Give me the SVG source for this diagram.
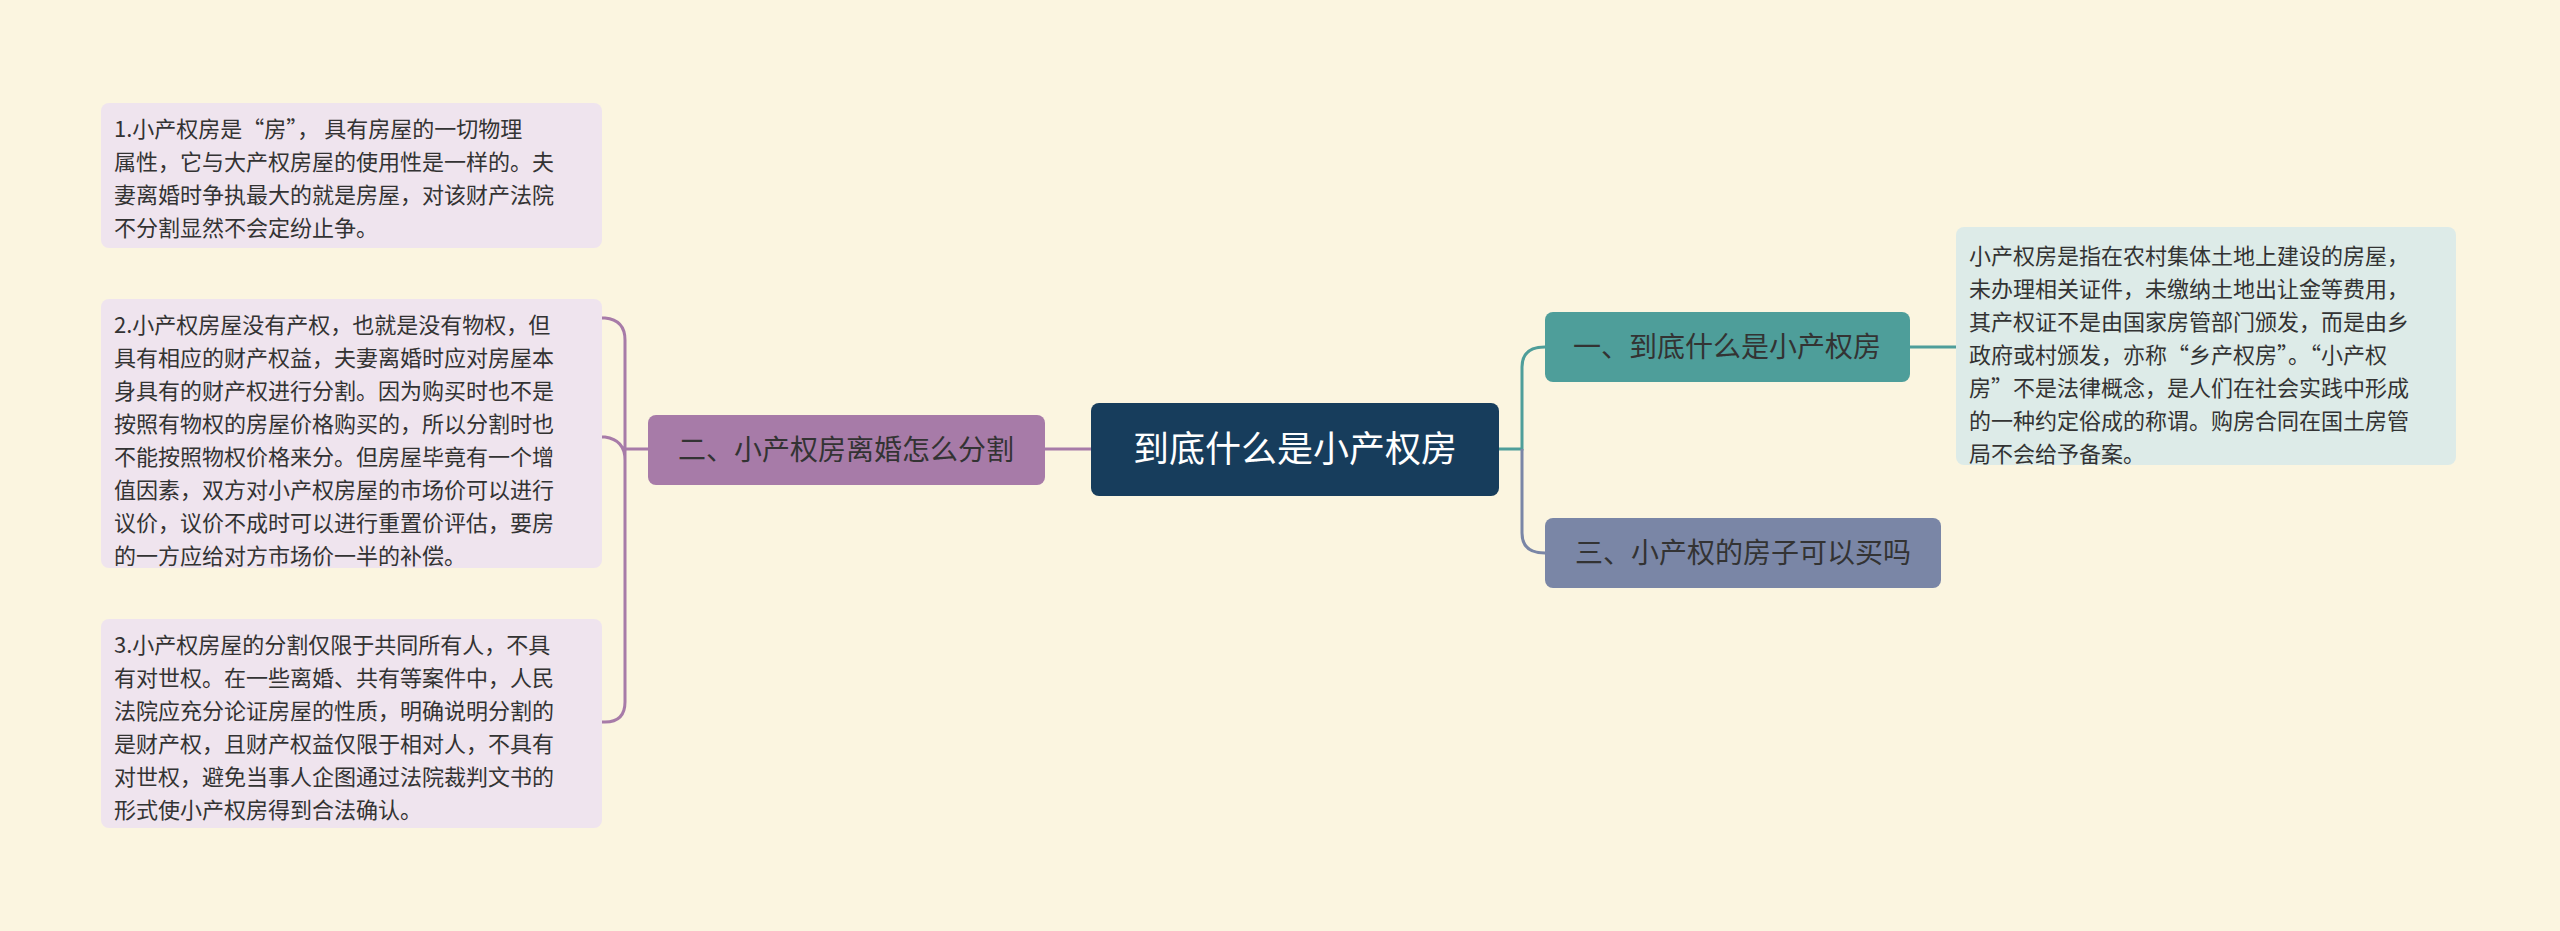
<svg xmlns="http://www.w3.org/2000/svg" width="2560" height="931" viewBox="0 0 2560 931">
<style>
.t{font-family:"Noto Sans CJK SC","Noto Sans",sans-serif;font-size:22px;fill:#333}
.b{font-family:"Noto Sans CJK SC","Noto Sans",sans-serif;font-size:28px;fill:#333}
.c{fill:none;stroke-width:3}
</style>
<rect width="2560" height="931" fill="#FBF5E0"/>
<g id="connectors">
<path class="c" stroke="#A77BA8" d="M1091 449H1045M648 449H625M625 449V340Q625 320 605 318H602M625 449V460Q625 440 605 437H602M625 449V702Q625 722 605 722H602"/>
<path class="c" stroke="#4E9E9A" d="M1499 449H1522V367Q1522 347 1545 347M1910 347H1956"/>
<path class="c" stroke="#7A86A6" d="M1522 449V533Q1522 553 1545 553"/>
</g>
<g id="root"><rect x="1091" y="403" width="408" height="93" rx="8" fill="#173D5C"/><text x="1295" y="462" text-anchor="middle" style="font-family:'Noto Sans CJK SC',sans-serif;font-size:36px;fill:#fff">到底什么是小产权房</text></g>
<g id="n2"><rect x="648" y="415" width="397" height="70" rx="8" fill="#A77BA8"/><text class="b" x="846" y="460" text-anchor="middle">二、小产权房离婚怎么分割</text></g>
<g id="n1"><rect x="1545" y="312" width="365" height="70" rx="8" fill="#4E9E9A"/><text class="b" x="1727" y="357" text-anchor="middle">一、到底什么是小产权房</text></g>
<g id="n3"><rect x="1545" y="518" width="396" height="70" rx="8" fill="#7A86A6"/><text class="b" x="1743" y="563" text-anchor="middle">三、小产权的房子可以买吗</text></g>
<g id="r1"><rect x="1956" y="227" width="500" height="238" rx="8" fill="#DDEBE8"/>
<text class="t"><tspan x="1969" y="264">小产权房是指在农村集体土地上建设的房屋，</tspan><tspan x="1969" y="297">未办理相关证件，未缴纳土地出让金等费用，</tspan><tspan x="1969" y="330">其产权证不是由国家房管部门颁发，而是由乡</tspan><tspan x="1969" y="363">政府或村颁发，亦称“乡产权房”。“小产权</tspan><tspan x="1969" y="396">房”不是法律概念，是人们在社会实践中形成</tspan><tspan x="1969" y="429">的一种约定俗成的称谓。购房合同在国土房管</tspan><tspan x="1969" y="462">局不会给予备案。</tspan></text></g>
<g id="l1"><rect x="101" y="103" width="501" height="145" rx="8" fill="#EFE4EE"/>
<text class="t"><tspan x="114" y="137">1.小产权房是“房”， 具有房屋的一切物理</tspan><tspan x="114" y="170">属性，它与大产权房屋的使用性是一样的。夫</tspan><tspan x="114" y="203">妻离婚时争执最大的就是房屋，对该财产法院</tspan><tspan x="114" y="236">不分割显然不会定纷止争。</tspan></text></g>
<g id="l2"><rect x="101" y="299" width="501" height="269" rx="8" fill="#EFE4EE"/>
<text class="t"><tspan x="114" y="333">2.小产权房屋没有产权，也就是没有物权，但</tspan><tspan x="114" y="366">具有相应的财产权益，夫妻离婚时应对房屋本</tspan><tspan x="114" y="399">身具有的财产权进行分割。因为购买时也不是</tspan><tspan x="114" y="432">按照有物权的房屋价格购买的，所以分割时也</tspan><tspan x="114" y="465">不能按照物权价格来分。但房屋毕竟有一个增</tspan><tspan x="114" y="498">值因素，双方对小产权房屋的市场价可以进行</tspan><tspan x="114" y="531">议价，议价不成时可以进行重置价评估，要房</tspan><tspan x="114" y="564">的一方应给对方市场价一半的补偿。</tspan></text></g>
<g id="l3"><rect x="101" y="619" width="501" height="209" rx="8" fill="#EFE4EE"/>
<text class="t"><tspan x="114" y="653">3.小产权房屋的分割仅限于共同所有人，不具</tspan><tspan x="114" y="686">有对世权。在一些离婚、共有等案件中，人民</tspan><tspan x="114" y="719">法院应充分论证房屋的性质，明确说明分割的</tspan><tspan x="114" y="752">是财产权，且财产权益仅限于相对人，不具有</tspan><tspan x="114" y="785">对世权，避免当事人企图通过法院裁判文书的</tspan><tspan x="114" y="818">形式使小产权房得到合法确认。</tspan></text></g>
</svg>
